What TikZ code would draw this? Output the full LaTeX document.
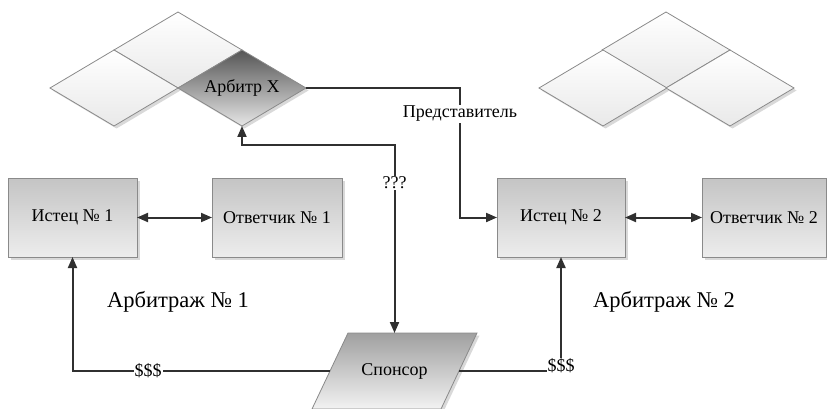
\documentclass[tikz,border=0pt]{standalone}
\usepackage{fontspec}
\setmainfont{Liberation Serif}
\usetikzlibrary{arrows.meta,shapes.geometric,shadows}
\definecolor{linec}{HTML}{303030}
\definecolor{bordc}{HTML}{8A8A8A}
\definecolor{boxtop}{HTML}{C4C4C4}
\definecolor{boxbot}{HTML}{EDEDED}
\definecolor{darktop}{HTML}{555555}
\definecolor{darkbot}{HTML}{E6E6E6}
\definecolor{rhbot}{HTML}{E9E9E9}
\definecolor{spontop}{HTML}{A0A0A0}
\definecolor{sponbot}{HTML}{F2F2F2}
\begin{document}
\begin{tikzpicture}[x=1pt,y=-1pt,
  >={Triangle[length=11pt,width=9pt]},
  shad/.style={drop shadow={shadow xshift=2.5pt,shadow yshift=-2.5pt,fill=black!15,opacity=1}},
  box/.style={rectangle,draw=bordc,line width=0.8pt,top color=boxtop,bottom color=boxbot,
    minimum height=79pt,inner sep=0pt,outer sep=0pt,shad,font=\fontsize{18}{21}\selectfont},
  rh/.style={diamond,aspect=1.684,minimum width=128pt,minimum height=76pt,inner sep=0pt,
    outer sep=0pt,draw=bordc,line width=0.8pt,top color=white,bottom color=rhbot,shad},
  rhdark/.style={rh,top color=darktop,bottom color=darkbot,font=\fontsize{18}{21}\selectfont},
  conn/.style={draw=linec,line width=2pt},
  lbl/.style={fill=white,inner sep=1pt,font=\fontsize{18}{21}\selectfont},
  big/.style={font=\fontsize{22.5}{26}\selectfont,inner sep=0pt},
  spontext/.style={rectangle,minimum width=129pt,minimum height=76pt,inner sep=0pt,outer sep=0pt,
    font=\fontsize{18}{21}\selectfont}]
\useasboundingbox (0,0) rectangle (827,409);

% left rhombus group
\node[rh] (rA1) at (178,50) {};
\node[rh] (rA2) at (114,88) {};
\node[rhdark] (arbX) at (242,88) {Арбитр X};
% right rhombus group
\node[rh] (rB1) at (666,50) {};
\node[rh] (rB2) at (603,88) {};
\node[rh] (rB3) at (730,88) {};

% boxes
\node[box,minimum width=129pt] (ist1) at (72.5,217.5) {Истец № 1};
\node[box,minimum width=130pt] (otv1) at (277,217.5) {Ответчик № 1};
\node[box,minimum width=128pt] (ist2) at (561,217.5) {Истец № 2};
\node[box,minimum width=124pt] (otv2) at (764,217.5) {Ответчик № 2};

% sponsor parallelogram
\path[draw=bordc,line width=0.8pt,top color=spontop,bottom color=sponbot,shad]
  (348,333) -- (477,333) -- (441,409) -- (312,409) -- cycle;
\node[spontext] (sponsor) at (394.5,371) {Спонсор};

% labels
\node[big] (arb1) at (178,302) {Арбитраж № 1};
\node[big] (arb2) at (664,302) {Арбитраж № 2};

\coordinate (prc) at (460,217.5);

% connectors
\draw[conn,<->] (ist1) -- (otv1);
\draw[conn,<->] (ist2) -- (otv2);
\draw[conn,<->] (arbX.south) -- ++(0,19) -| node[lbl,pos=0.6]{???} (sponsor.north);
\draw[conn,->] (arbX.east) -| node[lbl,pos=0.6]{Представитель} (prc) -- (ist2.west);
\draw[conn,->] (sponsor.west) -| node[lbl,pos=0.353]{\$\$\$} (ist1.south);
\draw[conn,->] (sponsor.east) -| node[lbl,pos=0.5,yshift=5pt]{\$\$\$} (ist2.south);
\end{tikzpicture}
\end{document}
